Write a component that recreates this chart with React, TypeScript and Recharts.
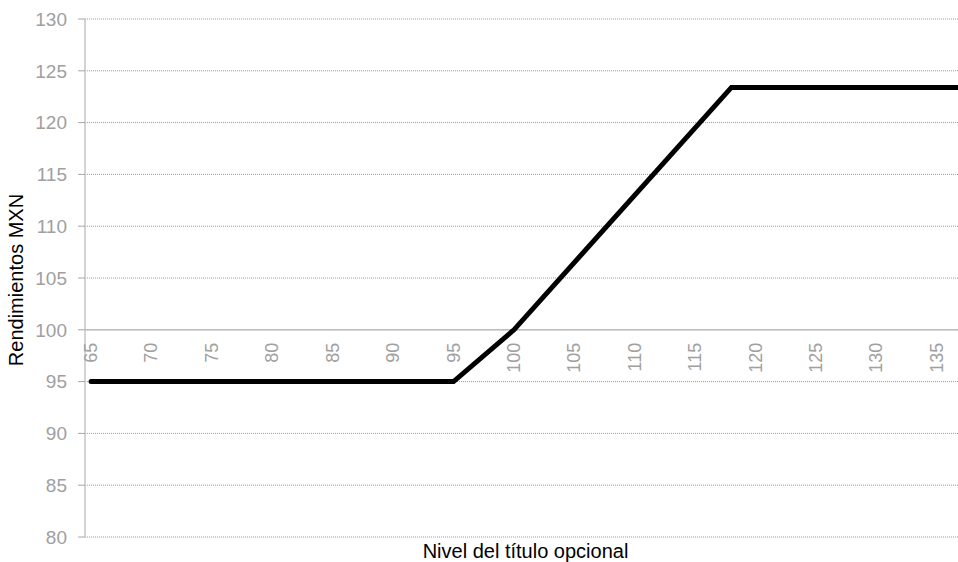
import React from "react";
import {
  LineChart,
  Line,
  XAxis,
  YAxis,
  CartesianGrid,
  ReferenceLine,
  ReferenceDot,
} from "recharts";

// Underlying level (x) and payoff in MXN (y) at each break point
const levels = [65, 95, 100, 118, 137];
const payoff = [95, 95, 100, 123.4, 123.4];

const xTicks = [65, 70, 75, 80, 85, 90, 95, 100, 105, 110, 115, 120, 125, 130, 135];
const yTicks = [80, 85, 90, 95, 100, 105, 110, 115, 120, 125, 130];

const data = levels.map((level, i) => ({ level, payoff: payoff[i] }));

const FONT = "'Liberation Sans', Arial, sans-serif";
const TICK_GRAY = "#a0a0a0";

export default function App() {
  return (
    <div style={{ position: "absolute", left: 0, top: 0, background: "#fff" }}>
      <LineChart
        width={958}
        height={562}
        data={data}
        margin={{ top: 19, right: 0, left: 0, bottom: 0 }}
        style={{ fontFamily: FONT }}
      >
        <CartesianGrid
          vertical={false}
          stroke="#9a9a9a"
          strokeDasharray="1 1"
        />
        <XAxis
          type="number"
          dataKey="level"
          domain={[64.5, 136.75]}
          allowDataOverflow
          tick={false}
          tickLine={false}
          axisLine={false}
          height={25}
          label={{
            content: ({ viewBox }: any) => (
              <text
                x={viewBox.x + viewBox.width / 2 + 4}
                y={viewBox.y + 21}
                textAnchor="middle"
                fontSize={20}
                fontFamily={FONT}
                fill="#000"
              >
                Nivel del título opcional
              </text>
            ),
          }}
        />
        <YAxis
          type="number"
          domain={[80, 130]}
          ticks={yTicks}
          interval={0}
          width={85}
          tickSize={7}
          tickMargin={11}
          tick={{ fill: TICK_GRAY, fontSize: 19, fontFamily: FONT }}
          tickLine={{ stroke: "#a6a6a6" }}
          axisLine={{ stroke: "#c4c4c4", strokeWidth: 1.5 }}
          label={{
            content: ({ viewBox }: any) => {
              const cx = 16;
              const cy = viewBox.y + viewBox.height / 2 + 2;
              return (
                <text
                  x={cx}
                  y={cy}
                  transform={`rotate(-90, ${cx}, ${cy})`}
                  textAnchor="middle"
                  dominantBaseline="central"
                  fontSize={20}
                  fontFamily={FONT}
                  fill="#000"
                >
                  Rendimientos MXN
                </text>
              );
            },
          }}
        />
        <ReferenceLine y={100} stroke="#bdbdbd" strokeWidth={1.5} />
        {xTicks.map((t) => (
          <ReferenceDot
            key={t}
            x={t}
            y={100}
            r={0}
            fill="none"
            stroke="none"
            label={(props: any) => {
              const vb = props.viewBox || {};
              const x = vb.x + (vb.width || 0) / 2;
              const y = vb.y + (vb.height || 0) / 2 + 13;
              return (
                <text
                  x={x}
                  y={y}
                  transform={`rotate(-90, ${x}, ${y})`}
                  textAnchor="end"
                  dominantBaseline="central"
                  fontSize={18}
                  fontFamily={FONT}
                  fill={TICK_GRAY}
                >
                  {t}
                </text>
              );
            }}
          />
        ))}
        <Line
          type="linear"
          dataKey="payoff"
          stroke="#000"
          strokeWidth={5}
          strokeLinecap="round"
          dot={false}
          activeDot={false}
          isAnimationActive={false}
        />
      </LineChart>
    </div>
  );
}
